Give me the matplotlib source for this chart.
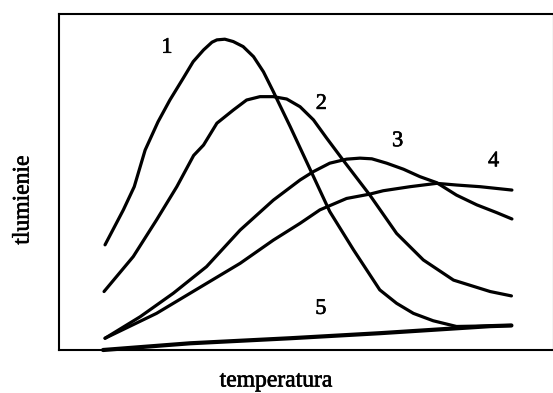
import matplotlib
matplotlib.use("Agg")
import matplotlib.pyplot as plt
import matplotlib.patheffects as pe

plt.rcParams['font.family'] = ['Liberation Serif', 'DejaVu Serif']

# curve data (arbitrary units)
x1 = [9.3, 13.0, 15.2, 17.4, 20.0, 22.4, 25.1, 27.1, 29.2, 30.9, 31.9, 33.5, 35.2, 37.2, 39.3, 41.3, 43.3, 44.6,
      46.7, 51.1, 54.7, 59.5, 64.8, 68.2, 71.6, 75.6, 80.3, 91.4]
y1 = [31.3, 41.7, 48.6, 59.5, 67.9, 74.4, 80.9, 85.8, 89.3, 91.6, 92.3, 92.5, 91.8, 90.3, 87.3, 82.8, 76.9, 72.9,
      66.5, 52.6, 41.2, 29.8, 17.9, 13.9, 10.9, 8.7, 7.0, 7.3]

x2 = [9.1, 15.0, 19.7, 23.8, 27.2, 29.2, 31.9, 35.2, 37.9, 40.6, 43.3, 46.0, 48.7, 51.4, 54.1, 57.4, 62.8, 68.2,
      73.6, 79.7, 87.1, 91.4]
y2 = [17.4, 27.8, 38.7, 48.6, 57.9, 61.0, 67.5, 71.4, 74.4, 75.4, 75.4, 74.7, 72.4, 68.5, 63.0, 56.5, 46.1, 34.7,
      26.8, 20.8, 17.4, 16.1]

x3 = [9.3, 16.4, 23.1, 29.8, 36.6, 43.3, 48.7, 51.4, 54.7, 58.1, 60.8, 63.2, 66.2, 69.6, 72.9, 76.3, 80.3, 84.4,
      88.4, 91.5]
y3 = [3.5, 9.9, 16.9, 24.8, 35.7, 44.6, 50.6, 53.1, 55.6, 56.8, 57.1, 56.9, 55.6, 53.8, 51.6, 49.8, 46.1, 43.2,
      40.9, 39.0]

x4 = [9.3, 19.7, 26.5, 36.6, 43.3, 48.7, 52.7, 58.1, 62.8, 65.5, 70.9, 76.3, 80.3, 85.1, 91.5]
y4 = [3.5, 10.9, 16.9, 25.8, 32.7, 37.7, 41.7, 45.1, 46.4, 47.4, 48.6, 49.6, 49.1, 48.6, 47.6]

x5 = [8.9, 26.5, 46.7, 64.8, 87.1, 91.4]
y5 = [0.0, 2.0, 3.5, 5.0, 7.1, 7.3]

curve_labels = ['1', '2', '3', '4', '5']
label_x = [21.8, 53.0, 68.4, 87.8, 52.9]
label_y = [89.8, 73.1, 62.0, 56.0, 12.1]

xlabel = 'temperatura'
ylabel = 'tlumienie'

fig = plt.figure(figsize=(5.53, 3.93), dpi=100)
ax = fig.add_axes([59 / 553, 1 - 350 / 393, (554 - 59) / 553, (350 - 14) / 393])
ax.set_xlim(0, 100)
ax.set_ylim(0, 100)

for xs, ys, lw in [(x1, y1, 2.3), (x2, y2, 2.3), (x3, y3, 2.3), (x4, y4, 2.3), (x5, y5, 3.0)]:
    ax.plot(xs, ys, color='black', lw=lw, solid_capstyle='round', solid_joinstyle='round', clip_on=False)

thick = [pe.withStroke(linewidth=0.45, foreground='black')]
for t, lx, ly in zip(curve_labels, label_x, label_y):
    ax.text(lx, ly, t, fontsize=16, ha='center', va='center', color='black', path_effects=thick)

ax.set_xticks([])
ax.set_yticks([])
for s in ax.spines.values():
    s.set_linewidth(1.5)
    s.set_color('black')

fig.text(276 / 553, 1 - 386.5 / 393, xlabel, fontsize=17, ha='center', va='baseline', path_effects=thick)
fig.text(23 / 553, 1 - 200 / 393, ylabel, fontsize=17, ha='center', va='center', rotation=90, path_effects=thick)

fig.savefig('out.png', dpi=100)
